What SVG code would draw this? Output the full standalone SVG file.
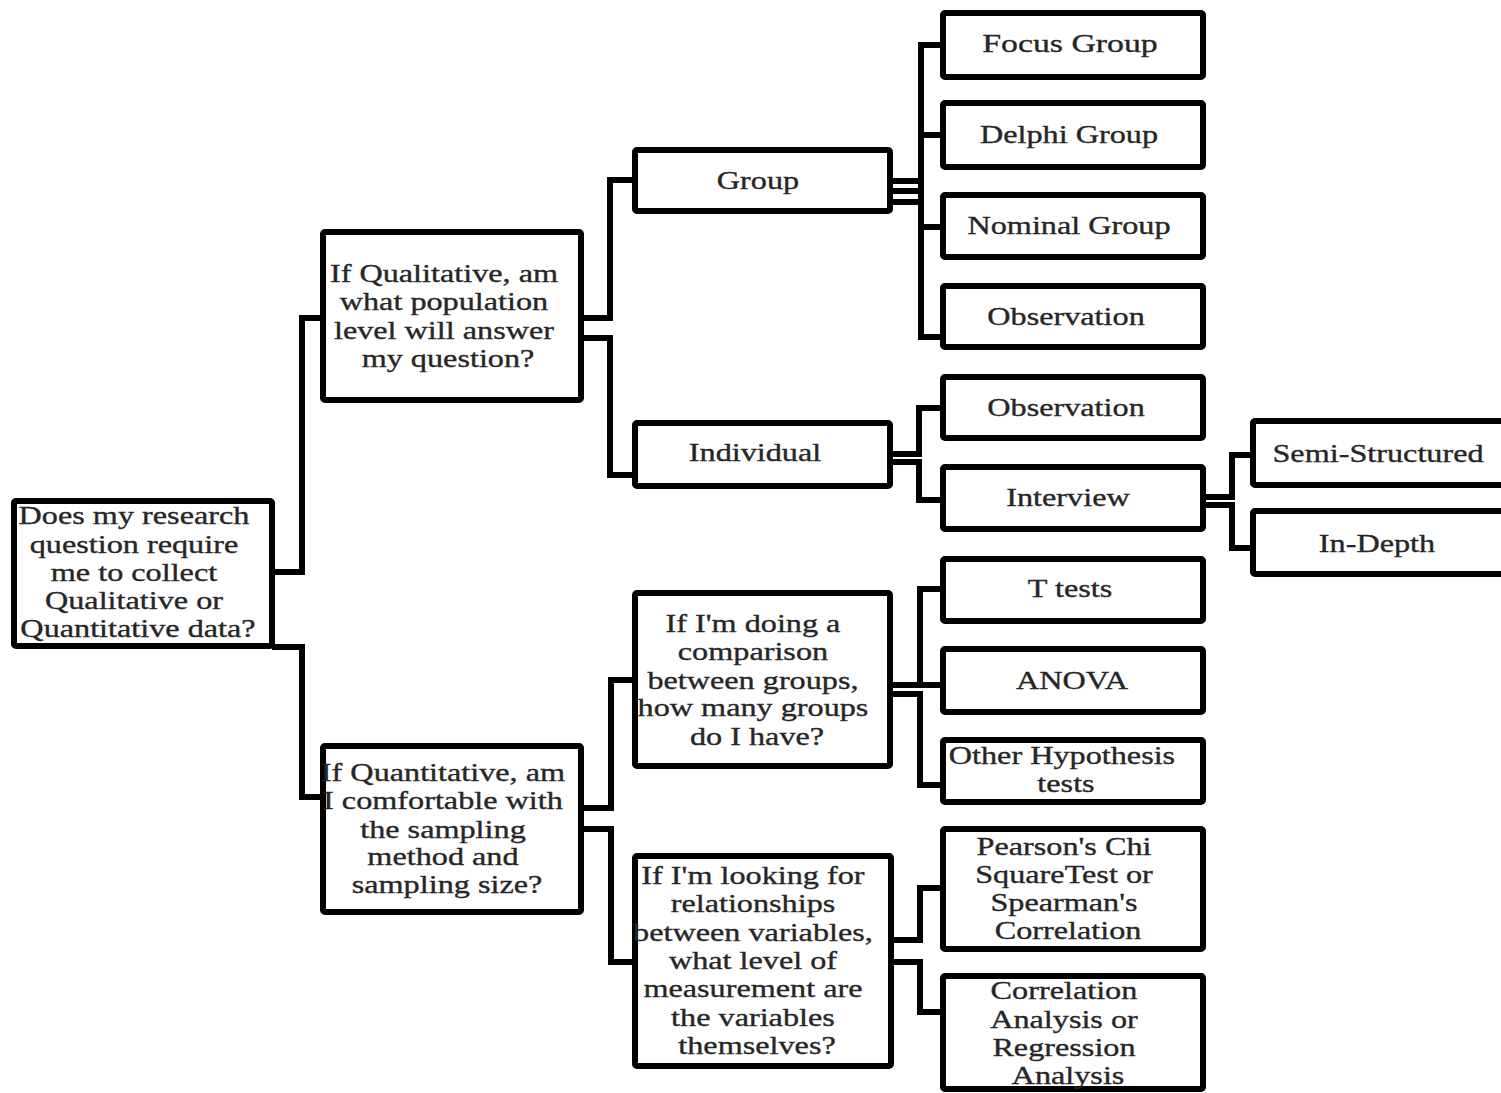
<svg xmlns="http://www.w3.org/2000/svg" width="1501" height="1093" viewBox="0 0 1501 1093">
  <style>
    .box { fill: #ffffff; stroke: #000000; stroke-width: 6; }
    .wire { fill: none; stroke: #000000; stroke-width: 6; stroke-linejoin: miter; }
    .t { font-family: "Liberation Serif", "Times New Roman", serif; font-size: 26px; fill: #262626; stroke: #262626; stroke-width: 0.35; text-anchor: middle; }
  </style>
  <rect x="0" y="0" width="1501" height="1093" fill="#ffffff"/>

  <!-- connectors -->
  <g id="connectors">
    <path class="wire" d="M272,572 H302 V318 H323"/>
    <path class="wire" d="M272,647 H302 V797 H323"/>
    <path class="wire" d="M581,318 H610 V180 H635"/>
    <path class="wire" d="M581,338 H610 V475 H635"/>
    <path class="wire" d="M890,181 H921 V45 H943"/>
    <path class="wire" d="M890,191 H921 V135 H943"/>
    <path class="wire" d="M890,191 H921 V227 H943"/>
    <path class="wire" d="M890,202 H921 V337 H943"/>
    <path class="wire" d="M890,454 H919 V408 H943"/>
    <path class="wire" d="M890,462 H919 V500 H943"/>
    <path class="wire" d="M1203,497 H1232 V455 H1253"/>
    <path class="wire" d="M1203,505 H1232 V548 H1253"/>
    <path class="wire" d="M581,808 H611 V680 H635"/>
    <path class="wire" d="M581,829 H611 V962 H635"/>
    <path class="wire" d="M890,685 H920 V589 H943"/>
    <path class="wire" d="M890,685 H943"/>
    <path class="wire" d="M890,694 H920 V785 H943"/>
    <path class="wire" d="M891,940 H920 V888 H943"/>
    <path class="wire" d="M891,962 H920 V1012 H943"/>
  </g>

  <!-- root question -->
  <g id="root">
    <rect class="box" x="14" y="501" width="258" height="145" rx="2"/>
    <text class="t" transform="translate(138,0) scale(1.24,1)">
      <tspan x="0" y="524">Does my research</tspan>
      <tspan x="0" y="553">question require</tspan>
      <tspan x="0" y="581">me to collect</tspan>
      <tspan x="0" y="609">Qualitative or</tspan>
      <tspan x="0" y="637">Quantitative data?</tspan>
    </text>
  </g>

  <!-- qualitative branch -->
  <g id="qualitative">
    <rect class="box" x="323" y="232" width="258" height="168" rx="2"/>
    <text class="t" transform="translate(448,0) scale(1.24,1)">
      <tspan x="0" y="282">If Qualitative, am</tspan>
      <tspan x="0" y="310">what population</tspan>
      <tspan x="0" y="339">level will answer</tspan>
      <tspan x="0" y="367">my question?</tspan>
    </text>
  </g>

  <g id="group">
    <rect class="box" x="635" y="150" width="255" height="61" rx="2"/>
    <text class="t" transform="translate(758,0) scale(1.24,1)"><tspan x="0" y="189">Group</tspan></text>
  </g>

  <g id="individual">
    <rect class="box" x="635" y="423" width="255" height="63" rx="2"/>
    <text class="t" transform="translate(755,0) scale(1.24,1)"><tspan x="0" y="461">Individual</tspan></text>
  </g>

  <g id="focus-group">
    <rect class="box" x="943" y="13" width="260" height="64" rx="2"/>
    <text class="t" transform="translate(1070,0) scale(1.3,1)"><tspan x="0" y="52">Focus Group</tspan></text>
  </g>

  <g id="delphi-group">
    <rect class="box" x="943" y="103" width="260" height="64" rx="2"/>
    <text class="t" transform="translate(1069,0) scale(1.24,1)"><tspan x="0" y="143">Delphi Group</tspan></text>
  </g>

  <g id="nominal-group">
    <rect class="box" x="943" y="195" width="260" height="62" rx="2"/>
    <text class="t" transform="translate(1069,0) scale(1.24,1)"><tspan x="0" y="234">Nominal Group</tspan></text>
  </g>

  <g id="observation-group">
    <rect class="box" x="943" y="286" width="260" height="61" rx="2"/>
    <text class="t" transform="translate(1066,0) scale(1.24,1)"><tspan x="0" y="325">Observation</tspan></text>
  </g>

  <g id="observation-individual">
    <rect class="box" x="943" y="377" width="260" height="61" rx="2"/>
    <text class="t" transform="translate(1066,0) scale(1.24,1)"><tspan x="0" y="416">Observation</tspan></text>
  </g>

  <g id="interview">
    <rect class="box" x="943" y="467" width="260" height="62" rx="2"/>
    <text class="t" transform="translate(1068,0) scale(1.24,1)"><tspan x="0" y="506">Interview</tspan></text>
  </g>

  <g id="semi-structured">
    <rect class="box" x="1253" y="421" width="262" height="64" rx="2"/>
    <text class="t" transform="translate(1378,0) scale(1.24,1)"><tspan x="0" y="462">Semi-Structured</tspan></text>
  </g>

  <g id="in-depth">
    <rect class="box" x="1253" y="511" width="262" height="63" rx="2"/>
    <text class="t" transform="translate(1377,0) scale(1.24,1)"><tspan x="0" y="552">In-Depth</tspan></text>
  </g>

  <!-- quantitative branch -->
  <g id="quantitative">
    <rect class="box" x="323" y="746" width="258" height="166" rx="2"/>
    <text class="t" transform="translate(447,0) scale(1.24,1)">
      <tspan x="0" y="781">If Quantitative, am</tspan>
      <tspan x="0" y="809">I comfortable with</tspan>
      <tspan x="0" y="838">the sampling</tspan>
      <tspan x="0" y="865">method and</tspan>
      <tspan x="0" y="893">sampling size?</tspan>
    </text>
  </g>

  <g id="comparison">
    <rect class="box" x="635" y="593" width="255" height="173" rx="2"/>
    <text class="t" transform="translate(757,0) scale(1.24,1)">
      <tspan x="0" y="632">If I'm doing a</tspan>
      <tspan x="0" y="660">comparison</tspan>
      <tspan x="0" y="689">between groups,</tspan>
      <tspan x="0" y="716">how many groups</tspan>
      <tspan x="0" y="745">do I have?</tspan>
    </text>
  </g>

  <g id="relationships">
    <rect class="box" x="635" y="856" width="256" height="210" rx="2"/>
    <text class="t" transform="translate(757,0) scale(1.24,1)">
      <tspan x="0" y="884">If I'm looking for</tspan>
      <tspan x="0" y="912">relationships</tspan>
      <tspan x="0" y="941">between variables,</tspan>
      <tspan x="0" y="969">what level of</tspan>
      <tspan x="0" y="997">measurement are</tspan>
      <tspan x="0" y="1026">the variables</tspan>
      <tspan x="0" y="1054">themselves?</tspan>
    </text>
  </g>

  <g id="t-tests">
    <rect class="box" x="943" y="559" width="260" height="62" rx="2"/>
    <text class="t" transform="translate(1070,0) scale(1.24,1)"><tspan x="0" y="597">T tests</tspan></text>
  </g>

  <g id="anova">
    <rect class="box" x="943" y="649" width="260" height="63" rx="2"/>
    <text class="t" transform="translate(1072,0) scale(1.24,1)"><tspan x="0" y="689">ANOVA</tspan></text>
  </g>

  <g id="other-hypothesis">
    <rect class="box" x="943" y="740" width="260" height="62" rx="2"/>
    <text class="t" transform="translate(1066,0) scale(1.24,1)">
      <tspan x="0" y="764">Other Hypothesis</tspan>
      <tspan x="0" y="792">tests</tspan>
    </text>
  </g>

  <g id="pearson">
    <rect class="box" x="943" y="829" width="260" height="120" rx="2"/>
    <text class="t" transform="translate(1068,0) scale(1.24,1)">
      <tspan x="0" y="855">Pearson's Chi</tspan>
      <tspan x="0" y="883">SquareTest or</tspan>
      <tspan x="0" y="911">Spearman's</tspan>
      <tspan x="0" y="939">Correlation</tspan>
    </text>
  </g>

  <g id="correlation">
    <rect class="box" x="943" y="976" width="260" height="113" rx="2"/>
    <text class="t" transform="translate(1068,0) scale(1.24,1)">
      <tspan x="0" y="999">Correlation</tspan>
      <tspan x="0" y="1028">Analysis or</tspan>
      <tspan x="0" y="1056">Regression</tspan>
      <tspan x="0" y="1084">Analysis</tspan>
    </text>
  </g>
</svg>
